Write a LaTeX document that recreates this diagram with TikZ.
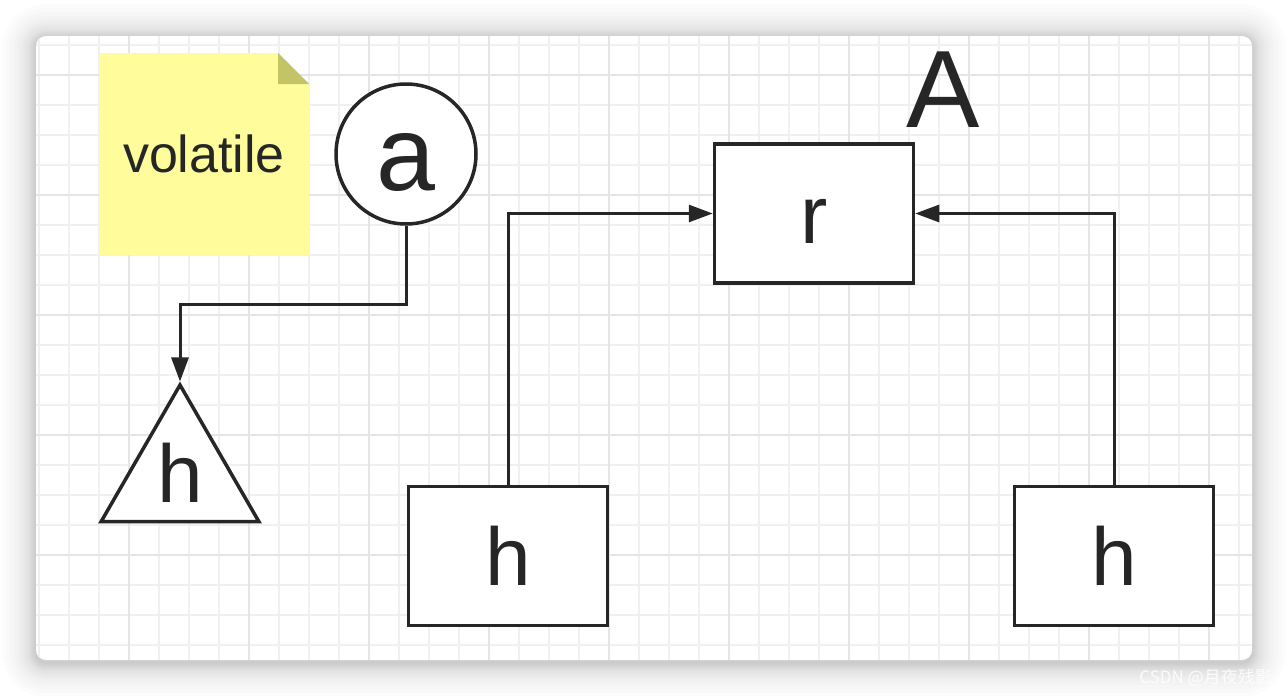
\documentclass[tikz,border=0pt]{standalone}
\usepackage{fontspec}
\setmainfont{Liberation Sans}
\newfontfamily\cjkfont{Noto Sans CJK SC}
\usetikzlibrary{arrows.meta,shapes.geometric}
\definecolor{ink}{HTML}{262626}
\definecolor{notefill}{HTML}{FFFD9B}
\definecolor{notefold}{HTML}{C3C465}
\definecolor{gridminor}{HTML}{F0F0F0}
\definecolor{gridmajor}{HTML}{E5E5E5}
\begin{document}
\begin{tikzpicture}[x=1pt,y=-1pt,
  box/.style={draw=ink, line width=3.5pt, fill=white, minimum width=199pt, minimum height=139pt,
    inner sep=0pt, text=ink, font=\fontsize{82}{90}\selectfont},
  conn/.style={draw=ink, line width=3pt, -{Triangle[length=24pt,width=17pt]}},
  minorline/.style={draw=gridminor, line width=2pt},
  majorline/.style={draw=gridmajor, line width=2.2pt}]
\useasboundingbox (0,0) rectangle (1288,696);
\fill[white] (0,0) rectangle (1288,696);
% shadow
\foreach \r [evaluate=\r as \rr using 10+\r] in {1,2,3,4,5,6,7,8,10,12,14,16,19,22,26,30,34}
  \fill[black, opacity=0.012, rounded corners=\rr pt] ({36-\r},{36-\r+2}) rectangle ({1252+\r},{660+\r+3});
% card
\fill[white, rounded corners=10pt] (36,36) rectangle (1252,660);
\begin{scope}
\clip[rounded corners=10pt] (36,36) rectangle (1252,660);
\foreach \x in {39,69,...,1239} \draw[minorline] (\x,36) -- (\x,660);
\foreach \y in {45,75,...,645} \draw[minorline] (36,\y) -- (1252,\y);
\foreach \x in {129,249,...,1209} \draw[majorline] (\x,36) -- (\x,660);
\foreach \y in {75,195,...,555} \draw[majorline] (36,\y) -- (1252,\y);
\end{scope}
% note
\fill[notefill] (99,53) -- (278,53) -- (309,84) -- (309,255) -- (99,255) -- cycle;
\fill[notefold] (278,53) -- (278,84) -- (309,84) -- cycle;
\node[text=ink, inner sep=0pt, font=\fontsize{52}{60}\selectfont] (note) at (204,154) {volatile};
% circle a
\node[circle, draw=ink, line width=3.5pt, fill=white, minimum size=140pt, inner sep=0pt,
  text height=72pt, text depth=0pt, text=ink, font=\fontsize{106}{110}\selectfont] (a) at (406,154) {a};
% triangle h
\node[regular polygon, regular polygon sides=3, draw=ink, line width=3.5pt, fill=white,
  minimum size=182pt, inner sep=0pt, text height=52pt, text depth=0pt, text=ink,
  font=\fontsize{82}{90}\selectfont] (tri) at (180,476) {h};
% boxes
\node[box, text height=59pt, text depth=0pt] (r) at (814,213.5) {r};
\node[box] (hL) at (508,556) {h};
\node[box] (hR) at (1114,556) {h};
% label A
\node[anchor=base, inner sep=0pt, text=ink, font=\fontsize{110}{120}\selectfont] (A) at (943,127) {A};
% connectors
\coordinate (bend1) at (406,304);
\draw[conn] (a.south) -- (bend1) -| (tri.north);
\draw[conn] (hL.north) |- (r.west);
\draw[conn] (hR.north) |- (r.east);
% watermark
\node[anchor=base east, inner sep=0pt, text=white, opacity=0.85, font=\cjkfont\fontsize{17}{20}\selectfont] (wm) at (1272,683) {CSDN @月夜残影};
\end{tikzpicture}
\end{document}
